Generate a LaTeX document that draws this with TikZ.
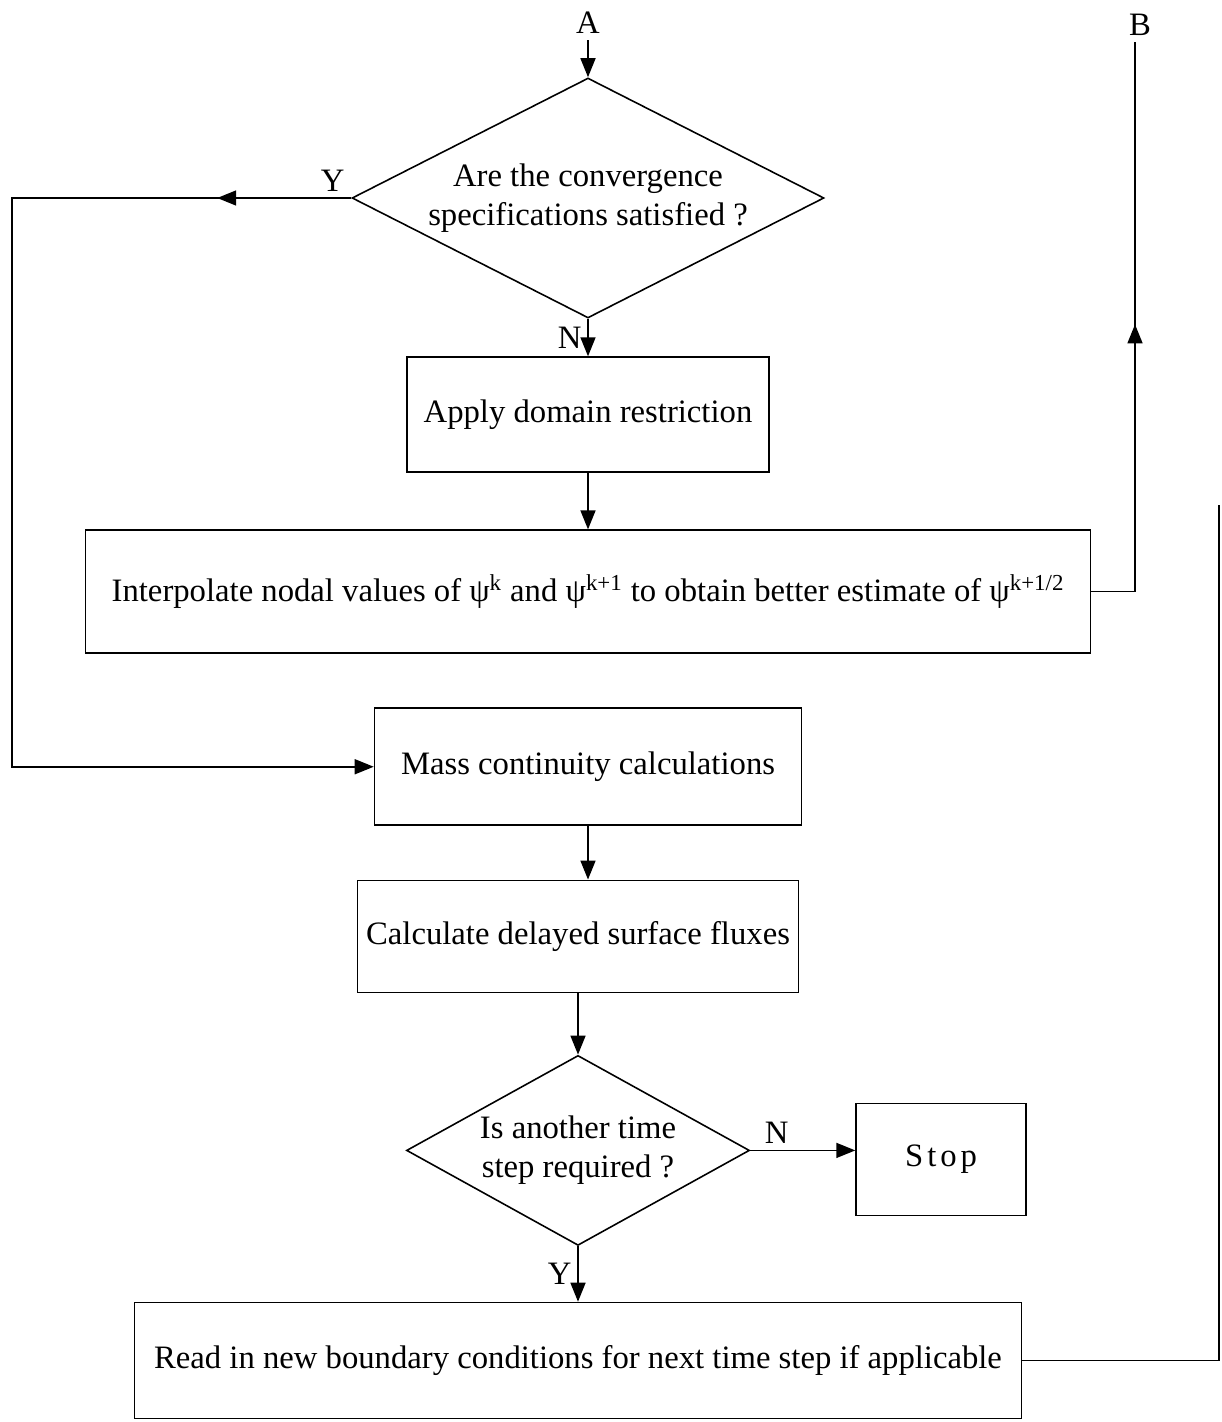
\documentclass[tikz,border=0pt]{standalone}
\usepackage{fontspec}
\setmainfont{Liberation Serif}
\usetikzlibrary{arrows.meta,positioning,shapes.geometric,decorations.markings}

\begin{document}
\begin{tikzpicture}[
  font=\fontsize{18.6}{22}\selectfont,
  line width=0.9pt,
  box/.style={draw, align=center, inner sep=0pt},
  test/.style={draw, shape=diamond, align=center, inner sep=0pt},
  arr/.style={-{Triangle[length=0.38cm, width=0.3cm]}},
  midarr/.style={postaction={decorate}, decoration={markings,
    mark=at position #1 with {\arrow{Triangle[length=0.38cm, width=0.3cm]}}}}
]
  \useasboundingbox (0,0) rectangle (24.42,-28.44);

  \node (A) at (11.76,-0.46) {A};
  \node[test, aspect=2, minimum width=9.44cm, minimum height=4.8cm] (conv) at (11.76,-3.96)
    {Are the convergence\\specifications satisfied ?};
  \node[box, minimum width=7.24cm, minimum height=2.3cm, below=0.75cm of conv] (restrict)
    {Apply domain restriction};
  \node[box, minimum width=20.1cm, minimum height=2.46cm, below=1.13cm of restrict] (interp)
    {Interpolate nodal values of ψ\textsuperscript{k} and ψ\textsuperscript{k+1} to obtain better estimate of ψ\textsuperscript{k+1/2}};
  \node[box, minimum width=8.54cm, minimum height=2.34cm, below=1.07cm of interp] (mass)
    {Mass continuity calculations};
  \node[box, minimum width=8.82cm, minimum height=2.24cm, below=1.07cm of mass, xshift=-0.2cm] (flux)
    {Calculate delayed surface fluxes};
  \node[test, aspect=1.8, minimum width=6.86cm, minimum height=3.8cm, below=1.23cm of flux] (again)
    {Is another time\\step required ?};
  \node[box, minimum width=3.4cm, minimum height=2.24cm, right=2.1cm of again, yshift=-0.18cm] (stop)
    {\addfontfeatures{LetterSpace=12}Stop};
  \node[box, minimum width=17.74cm, minimum height=2.32cm, below=1.11cm of again] (bc)
    {Read in new boundary conditions for next time step if applicable};

  \node (B) at (22.8,-0.5) {B};
  \coordinate (yleft) at (0.24,-3.96);
  \coordinate (btop) at (22.7,-0.84);
  \coordinate (rtop) at (24.38,-10.1);

  \draw[arr] (A) -- (conv.north);
  \draw[arr] (conv.south) -- node[left] {N} (restrict.north);
  \draw[arr] (restrict) -- (interp);
  \draw[arr] (mass) -- (mass |- flux.north);
  \draw[arr] (flux) -- (again);
  \draw[arr] (again.east) -- node[above, pos=0.25] {N} (stop.west |- again.east);
  \draw[arr] (again.south) -- node[left] {Y} (bc.north);
  \draw[arr, midarr=2.68cm] (conv.west) node[above left] {Y} -- (conv.west -| yleft) |- (mass.west);
  \draw[midarr=6.22cm] (interp.east) -| (btop);
  \draw (bc.east) -| (rtop);
\end{tikzpicture}
\end{document}
